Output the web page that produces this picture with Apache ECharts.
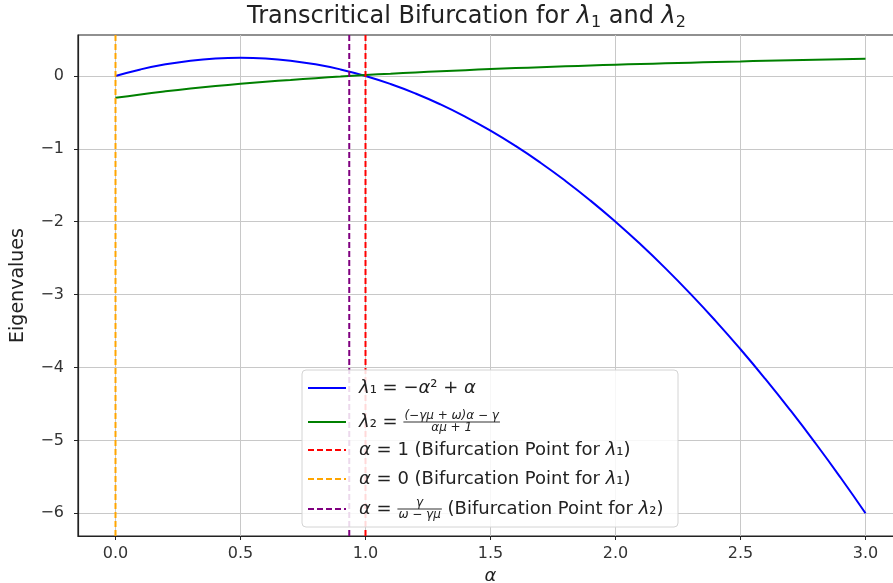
<!DOCTYPE html>
<html>
<head>
<meta charset="utf-8">
<script src="https://cdn.jsdelivr.net/npm/echarts@6/dist/echarts.min.js"></script>
<style>
  html, body { margin: 0; padding: 0; background: #fff; }
  #chart { width: 893px; height: 583px; }
</style>
</head>
<body>
<div id="chart"></div>
<script>
// Sample points along alpha
const alphaValues = [0.0, 0.1, 0.2, 0.3, 0.4, 0.5, 0.6, 0.7, 0.8, 0.9, 1.0,
  1.1, 1.2, 1.3, 1.4, 1.5, 1.6, 1.7, 1.8, 1.9, 2.0,
  2.1, 2.2, 2.3, 2.4, 2.5, 2.6, 2.7, 2.8, 2.9, 3.0];

// lambda_1 = -alpha^2 + alpha
const lambda1Values = [0.00, 0.09, 0.16, 0.21, 0.24, 0.25, 0.24, 0.21, 0.16, 0.09, 0.00,
  -0.11, -0.24, -0.39, -0.56, -0.75, -0.96, -1.19, -1.44, -1.71, -2.00,
  -2.31, -2.64, -2.99, -3.36, -3.75, -4.16, -4.59, -5.04, -5.51, -6.00];

// lambda_2 curve
const lambda2Values = [-0.300, -0.253, -0.211, -0.173, -0.139, -0.108, -0.079, -0.054, -0.030, -0.008, 0.013,
  0.031, 0.049, 0.065, 0.080, 0.095, 0.108, 0.121, 0.133, 0.144, 0.155,
  0.165, 0.174, 0.183, 0.192, 0.200, 0.208, 0.215, 0.222, 0.229, 0.236];

// Bifurcation points (vertical markers)
const bifurcationLambda1A = 1.0;
const bifurcationLambda1B = 0.0;
const bifurcationLambda2 = 0.935;

// Axis ticks and limits
const xTicks = [0.0, 0.5, 1.0, 1.5, 2.0, 2.5, 3.0];
const yTicks = [-6, -5, -4, -3, -2, -1, 0];
const xRange = [-0.15, 3.15];
const yRange = [-6.3125, 0.5625];

const FONT = 'DejaVu Sans';
const TXT = '#222';

function zip(xs, ys) { return xs.map((x, i) => [x, ys[i]]); }
function vline(x) { return [[x, yRange[0]], [x, yRange[1]]]; }

// text measurement for laying out the stacked fractions in the legend
const ctx = document.createElement('canvas').getContext('2d');
function tw(text, size, italic) {
  ctx.font = (italic ? 'italic ' : '') + size + 'px "' + FONT + '"';
  return ctx.measureText(text).width;
}

const LS = 18;  // legend font size
const FS = 12;  // fraction font size

const frac2Num = '(−γμ + ω)α − γ';
const frac2Den = 'αμ + 1';
const frac5Num = 'γ';
const frac5Den = 'ω − γμ';

const pre2W = tw('λ', LS, true) + tw('₂ = ', LS, false);
const bar2W = Math.max(tw(frac2Num, FS, true), tw(frac2Den, FS, true)) + 2;
const pre5W = tw('α', LS, true) + tw(' = ', LS, false);
const bar5W = Math.max(tw(frac5Num, FS, true), tw(frac5Den, FS, true)) + 2;

const rich = {
  g: { width: 8, lineHeight: 4 },
  m: { fontFamily: FONT, fontSize: LS, fontStyle: 'italic', color: TXT, lineHeight: 4 },
  t: { fontFamily: FONT, fontSize: LS, color: TXT, lineHeight: 4 },
  f: { fontFamily: FONT, fontSize: FS, fontStyle: 'italic', color: TXT, lineHeight: 8 },
  bar2: { width: bar2W, height: 1, backgroundColor: '#333', lineHeight: 4 },
  bar5: { width: bar5W, height: 1, backgroundColor: '#333', lineHeight: 4 },
  s2n: { width: pre2W + (bar2W - tw(frac2Num, FS, true)) / 2, lineHeight: 8 },
  s2d: { width: pre2W + (bar2W - tw(frac2Den, FS, true)) / 2, lineHeight: 8 },
  s5n: { width: pre5W + (bar5W - tw(frac5Num, FS, true)) / 2, lineHeight: 8 },
  s5d: { width: pre5W + (bar5W - tw(frac5Den, FS, true)) / 2, lineHeight: 8 },
  h: { width: 8, lineHeight: 18 },
  r: { fontFamily: FONT, fontSize: LS, color: TXT, lineHeight: 18 },
  ri: { fontFamily: FONT, fontSize: LS, fontStyle: 'italic', color: TXT, lineHeight: 18 }
};

// legend entries: series key, label, vertical centre of the row, label height
const legendRows = [
  { key: 'lambda1', h: 18, y: 388,
    text: '{h| }{ri|λ}{r|₁ = −}{ri|α}{r|² + }{ri|α}' },
  { key: 'lambda2', h: 20, y: 417,
    text: '{g| }{s2n| }{f|' + frac2Num + '}\n' +
          '{g| }{m|λ}{t|₂ = }{bar2| }\n' +
          '{g| }{s2d| }{f|' + frac2Den + '}' },
  { key: 'alpha1', h: 18, y: 450,
    text: '{h| }{ri|α}{r| = 1 (Bifurcation Point for }{ri|λ}{r|₁)}' },
  { key: 'alpha0', h: 18, y: 479,
    text: '{h| }{ri|α}{r| = 0 (Bifurcation Point for }{ri|λ}{r|₁)}' },
  { key: 'alphaG', h: 20, y: 504,
    text: '{g| }{s5n| }{f|' + frac5Num + '}\n' +
          '{g| }{m|α}{t| = }{bar5| }{t| (Bifurcation Point for }{m|λ}{t|₂)}\n' +
          '{g| }{s5d| }{f|' + frac5Den + '}' }
];

const legends = legendRows.map(row => ({
  data: [row.key],
  orient: 'vertical',
  left: 307, top: row.y - row.h / 2,
  itemWidth: 38, itemHeight: 10, padding: 0,
  itemStyle: { opacity: 0, borderWidth: 0 },
  selectedMode: false,
  formatter: () => row.text,
  textStyle: { rich: rich, fontFamily: FONT, fontSize: LS, color: TXT },
  z: 10
}));

const chart = echarts.init(document.getElementById('chart'), null, { renderer: 'canvas' });

function dashed(name, x, color) {
  return {
    name: name, type: 'line', data: vline(x), symbol: 'none', silent: true,
    lineStyle: { color: color, width: 2, type: [6, 3] }, itemStyle: { color: color }, z: 3
  };
}

chart.setOption({
  animation: false,
  backgroundColor: '#fff',
  title: {
    text: 'Transcritical Bifurcation for {i|λ}{s|1} and {i|λ}{s|2}',
    left: 247, top: 3, padding: 0,
    textStyle: {
      fontFamily: FONT, fontSize: 24, fontWeight: 'normal', color: TXT, lineHeight: 28,
      rich: {
        i: { fontFamily: FONT, fontSize: 24, fontStyle: 'italic', color: TXT, lineHeight: 28 },
        s: { fontFamily: FONT, fontSize: 16, color: TXT, lineHeight: 20, verticalAlign: 'bottom' }
      }
    }
  },
  grid: {
    left: 78, top: 35, width: 825, bottom: 47,
    outerBoundsMode: 'none', containLabel: false,
    show: true, borderColor: '#222', borderWidth: 1.2, backgroundColor: '#fff'
  },
  legend: legends,
  graphic: [{
    type: 'rect', z: 9, silent: true,
    shape: { x: 302, y: 370, width: 376, height: 157, r: 4 },
    style: { fill: 'rgba(255,255,255,0.85)', stroke: '#d4d4d4', lineWidth: 1 }
  }],
  xAxis: {
    type: 'value', min: xRange[0], max: xRange[1],
    name: 'α', nameLocation: 'middle', nameGap: 30,
    nameTextStyle: { fontFamily: FONT, fontSize: 18, fontStyle: 'italic', color: TXT },
    axisLine: { show: true, onZero: false, lineStyle: { color: '#222', width: 1.2 } },
    axisTick: { show: true, length: 4, customValues: xTicks, lineStyle: { color: '#222' } },
    axisLabel: {
      customValues: xTicks, margin: 10,
      fontFamily: FONT, fontSize: 16, color: '#333',
      formatter: v => v.toFixed(1)
    },
    splitLine: { show: true, lineStyle: { color: '#c8c8c8', width: 1 } }
  },
  yAxis: {
    type: 'value', min: yRange[0], max: yRange[1],
    name: 'Eigenvalues', nameLocation: 'middle', nameGap: 50,
    nameTextStyle: { fontFamily: FONT, fontSize: 19, color: TXT },
    axisLine: { show: true, onZero: false, lineStyle: { color: '#222', width: 1.2 } },
    axisTick: { show: true, length: 4, customValues: yTicks, lineStyle: { color: '#222' } },
    axisLabel: {
      customValues: yTicks, margin: 14,
      fontFamily: FONT, fontSize: 16, color: '#333',
      formatter: v => (v < 0 ? '−' + Math.abs(v) : String(v))
    },
    splitLine: { show: true, lineStyle: { color: '#c8c8c8', width: 1 } }
  },
  series: [
    {
      name: 'lambda1', type: 'line', data: zip(alphaValues, lambda1Values),
      symbol: 'none', smooth: true, lineStyle: { color: '#0000ff', width: 2 }, itemStyle: { color: '#0000ff' }, z: 3
    },
    {
      name: 'lambda2', type: 'line', data: zip(alphaValues, lambda2Values),
      symbol: 'none', smooth: true, lineStyle: { color: '#008000', width: 2 }, itemStyle: { color: '#008000' }, z: 3
    },
    dashed('alpha1', bifurcationLambda1A, '#ff0000'),
    dashed('alpha0', bifurcationLambda1B, '#ffa500'),
    dashed('alphaG', bifurcationLambda2, '#800080')
  ]
});
</script>
</body>
</html>
